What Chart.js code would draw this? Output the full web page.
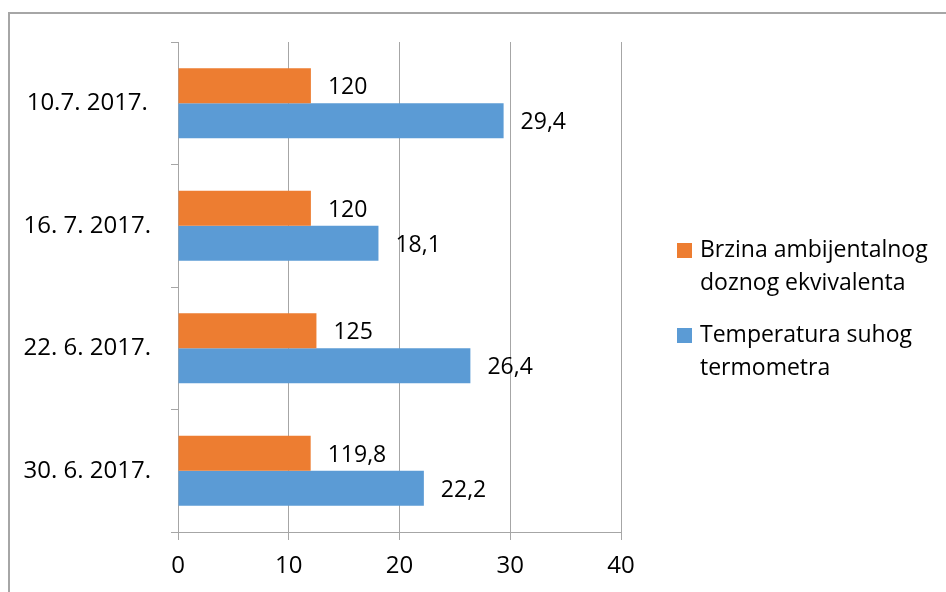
<!DOCTYPE html>
<html>
<head>
<meta charset="utf-8">
<script src="https://cdn.jsdelivr.net/npm/chart.js@4.4.0/dist/chart.umd.min.js"></script>
<style>
    html, body { margin: 0; padding: 0; background: #fff; }
    #wrap { position: relative; width: 946px; height: 592px; overflow: hidden; font-family: "Open Sans", sans-serif; }
    #frame { position: absolute; left: 8px; top: 12px; right: -10px; bottom: -10px; border-top: 2px solid #a6a6a6; border-left: 2px solid #a6a6a6; }
    #chart { position: absolute; left: 0; top: 0; }
    .legend { position: absolute; left: 677px; top: 232px; }
    .legend .item { position: relative; padding-left: 23px; font-size: 23px; line-height: 33px; color: #000; margin-bottom: 19px; }
    .legend .box { position: absolute; left: 0; top: 11px; width: 15px; height: 15px; }
</style>
</head>
<body>
<div id="wrap">
    <div id="frame"></div>
    <canvas id="chart" width="946" height="592"></canvas>
    <div class="legend" id="legend"></div>
</div>
<script>
// podaci očitani s grafa
const dates = ['10.7. 2017.', '16. 7. 2017.', '22. 6. 2017.', '30. 6. 2017.'];
const doseRate = [120, 120, 125, 119.8];      // Brzina ambijentalnog doznog ekvivalenta
const doseScale = 10;                           // stupci su nacrtani u mjerilu 1:10
const dryTemp = [29.4, 18.1, 26.4, 22.2];      // Temperatura suhog termometra
const xTicks = [0, 10, 20, 30, 40];

const seriesNames = [
    ['Brzina ambijentalnog', 'doznog ekvivalenta'],
    ['Temperatura suhog', 'termometra']
];
const colors = ['#ED7D31', '#5B9BD5'];
const FONT = '"Open Sans", sans-serif';

function fmt(v) {
    return String(v).replace('.', ',');
}

// oznake vrijednosti desno od stupca
const valueLabels = {
    id: 'valueLabels',
    afterDatasetsDraw(chart) {
        const ctx = chart.ctx;
        ctx.save();
        ctx.font = '23px ' + FONT;
        ctx.fillStyle = '#000';
        ctx.textAlign = 'left';
        ctx.textBaseline = 'middle';
        chart.data.datasets.forEach((ds, i) => {
            const meta = chart.getDatasetMeta(i);
            meta.data.forEach((bar, j) => {
                ctx.fillText(ds.labels[j], bar.x + 17, bar.y + 2);
            });
        });
        ctx.restore();
    }
};

new Chart(document.getElementById('chart'), {
    type: 'bar',
    data: {
        labels: dates,
        datasets: [
            {
                label: seriesNames[0].join(' '),
                data: doseRate.map(v => v / doseScale),
                labels: doseRate.map(fmt),
                backgroundColor: colors[0]
            },
            {
                label: seriesNames[1].join(' '),
                data: dryTemp,
                labels: dryTemp.map(fmt),
                backgroundColor: colors[1]
            }
        ]
    },
    plugins: [valueLabels],
    options: {
        indexAxis: 'y',
        responsive: false,
        animation: false,
        events: [],
        barPercentage: 1,
        categoryPercentage: 0.571,
        layout: {
            padding: { left: 0, right: 325, top: 42, bottom: 0 }
        },
        plugins: {
            legend: { display: false },
            tooltip: { enabled: false }
        },
        scales: {
            x: {
                min: 0,
                max: 40,
                afterBuildTicks(scale) {
                    scale.ticks = xTicks.map(v => ({ value: v }));
                },
                afterFit(scale) {
                    scale.height = 60;
                },
                grid: {
                    color: '#a6a6a6',
                    lineWidth: 1,
                    tickLength: 8
                },
                border: { display: true, color: '#a6a6a6' },
                ticks: {
                    color: '#000',
                    font: { family: FONT, size: 24 },
                    padding: 12
                }
            },
            y: {
                afterFit(scale) {
                    scale.width = 178;
                },
                grid: {
                    offset: true,
                    drawOnChartArea: false,
                    color: '#a6a6a6',
                    tickLength: 7
                },
                border: { display: true, color: '#a6a6a6' },
                ticks: {
                    color: '#000',
                    crossAlign: 'center',
                    padding: 20,
                    font: { family: FONT, size: 24 }
                }
            }
        }
    }
});

// legenda s prelomljenim tekstom
const legendEl = document.getElementById('legend');
seriesNames.forEach((lines, i) => {
    const item = document.createElement('div');
    item.className = 'item';
    const box = document.createElement('span');
    box.className = 'box';
    box.style.background = colors[i];
    item.appendChild(box);
    item.appendChild(document.createTextNode(lines[0]));
    item.appendChild(document.createElement('br'));
    item.appendChild(document.createTextNode(lines[1]));
    legendEl.appendChild(item);
});
</script>
</body>
</html>
